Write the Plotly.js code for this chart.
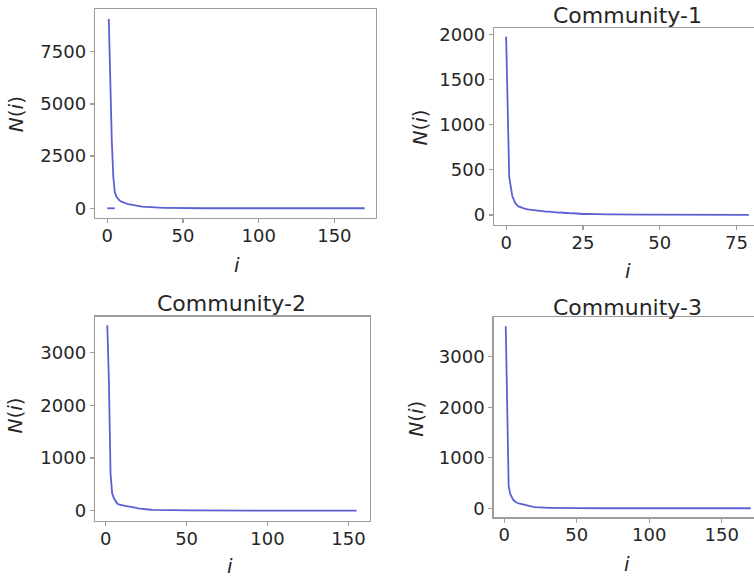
<!DOCTYPE html>
<html>
<head>
<meta charset="utf-8">
<script src="https://cdn.plot.ly/plotly-3.0.1.min.js"></script>
<style>
html, body { margin: 0; padding: 0; overflow: hidden; background: #fff; }
#chart { width: 768px; height: 578px; }
</style>
</head>
<body>
<div id="chart"></div>
<script>
// ---- Data ----
// Panel 1: all nodes, i = 1..170
const start1 = 1;
const n1 = [
  9070, 5400, 3200, 1500, 760, 560, 450, 380, 330, 295,
  265, 240, 218, 198, 180, 163, 148, 134, 121, 110,
  100, 91, 83, 76, 69, 63, 57, 52, 47, 43,
  39, 36, 33, 30, 27, 25, 23, 21, 19, 17,
  16, 15, 14, 13, 12, 11, 10, 9, 9, 8,
  8, 7, 7, 6, 6, 6, 5, 5, 5, 4,
  4, 4, 4, 3, 3, 3, 3, 3, 3, 2,
  2, 2, 2, 2, 2, 2, 2, 2, 2, 2,
  2, 2, 1, 2, 1, 1, 2, 1, 1, 1,
  1, 1, 1, 1, 1, 1, 1, 1, 1, 1,
  1, 1, 1, 1, 1, 1, 1, 1, 1, 1,
  1, 1, 1, 1, 1, 1, 1, 1, 1, 1,
  1, 1, 1, 1, 1, 1, 1, 1, 1, 1,
  1, 1, 1, 1, 1, 1, 1, 1, 1, 1,
  1, 1, 1, 1, 1, 1, 1, 1, 1, 1,
  1, 1, 1, 1, 1, 1, 1, 1, 1, 1,
  1, 1, 1, 1, 1, 1, 1, 1, 1, 1
];
// short flat segment at N = 0 near the origin in panel 1
const dashX = [0, 5];
const dashY = [0, 0];

// Panel 2: Community-1, i = 0..79
const start2 = 0;
const n2 = [
  1975, 420, 210, 130, 95, 78, 70, 62, 57, 53,
  48, 45, 41, 38, 36, 31, 33, 27, 29, 22,
  24, 17, 19, 14, 15, 11, 12, 10, 9, 8,
  8, 7, 7, 6, 6, 5, 5, 5, 4, 4,
  4, 4, 3, 3, 3, 3, 3, 3, 2, 2,
  2, 2, 2, 2, 2, 2, 2, 2, 2, 1,
  2, 1, 1, 2, 1, 1, 1, 1, 1, 1,
  1, 1, 1, 1, 1, 1, 1, 1, 1, 1
];

// Panel 3: Community-2, i = 1..155
const start3 = 1;
const n3 = [
  3520, 2450, 700, 330, 240, 180, 140, 118, 108, 100,
  96, 92, 88, 84, 80, 75, 68, 60, 52, 45,
  40, 35, 31, 28, 25, 22, 20, 18, 16, 15,
  14, 13, 12, 11, 10, 10, 9, 9, 8, 8,
  7, 7, 6, 6, 6, 5, 5, 5, 5, 4,
  4, 4, 4, 4, 3, 3, 3, 3, 3, 3,
  3, 3, 2, 2, 2, 2, 2, 2, 2, 2,
  2, 2, 2, 2, 2, 2, 2, 2, 1, 2,
  1, 2, 1, 1, 2, 1, 1, 1, 1, 1,
  1, 1, 1, 1, 1, 1, 1, 1, 1, 1,
  1, 1, 1, 1, 1, 1, 1, 1, 1, 1,
  1, 1, 1, 1, 1, 1, 1, 1, 1, 1,
  1, 1, 1, 1, 1, 1, 1, 1, 1, 1,
  1, 1, 1, 1, 1, 1, 1, 1, 1, 1,
  1, 1, 1, 1, 1, 1, 1, 1, 1, 1,
  1, 1, 1, 1, 1
];

// Panel 4: Community-3, i = 1..170
const start4 = 1;
const n4 = [
  3600, 2100, 450, 290, 220, 175, 145, 120, 105, 95,
  87, 80, 73, 66, 60, 53, 46, 40, 34, 29,
  25, 22, 19, 17, 15, 13, 12, 11, 10, 9,
  8, 8, 7, 7, 6, 6, 6, 5, 5, 5,
  4, 4, 4, 4, 4, 3, 3, 3, 3, 3,
  3, 3, 3, 2, 2, 2, 2, 2, 2, 2,
  2, 2, 2, 2, 2, 2, 1, 2, 1, 2,
  1, 1, 2, 1, 1, 1, 1, 1, 1, 1,
  1, 1, 1, 1, 1, 1, 1, 1, 1, 1,
  1, 1, 1, 1, 1, 1, 1, 1, 1, 1,
  1, 1, 1, 1, 1, 1, 1, 1, 1, 1,
  1, 1, 1, 1, 1, 1, 1, 1, 1, 1,
  1, 1, 1, 1, 1, 1, 1, 1, 1, 1,
  1, 1, 1, 1, 1, 1, 1, 1, 1, 1,
  1, 1, 1, 1, 1, 1, 1, 1, 1, 1,
  1, 1, 1, 1, 1, 1, 1, 1, 1, 1,
  1, 1, 1, 1, 1, 1, 1, 1, 1, 1
];

const titles = ["", "Community-1", "Community-2", "Community-3"];
const xTicks = [[0, 50, 100, 150], [0, 25, 50, 75], [0, 50, 100, 150], [0, 50, 100, 150]];
const yTicks = [[0, 2500, 5000, 7500], [0, 500, 1000, 1500, 2000], [0, 1000, 2000, 3000], [0, 1000, 2000, 3000]];
const xLabel = "<i>i</i>";
const yLabel = "<i>N</i>(<i>i</i>)";

// ---- Build ----
function idx(start, arr) { return arr.map((_, k) => start + k); }

const W = 768, H = 578;
const lineColor = "#5a60d3";
const frameColor = "#9c9c9c";
const textColor = "#262626";
const fam = "DejaVu Sans, Liberation Sans, sans-serif";

const series = [[start1, n1], [start2, n2], [start3, n3], [start4, n4]];
const traces = series.map((s, k) => ({
  x: idx(s[0], s[1]), y: s[1], type: "scatter", mode: "lines",
  line: { color: lineColor, width: 1.8 },
  xaxis: "x" + (k === 0 ? "" : k + 1), yaxis: "y" + (k === 0 ? "" : k + 1),
  showlegend: false, hoverinfo: "x+y"
}));
traces.push({ x: dashX, y: dashY, type: "scatter", mode: "lines",
  line: { color: lineColor, width: 1.8 }, xaxis: "x", yaxis: "y", showlegend: false });

// plot areas in pixels [left, right, top, bottom]
const boxes = [
  [95, 376, 9, 218],
  [494, 761, 28.3, 225],
  [95, 370, 316.7, 521],
  [493.5, 763, 317.3, 517.3]
];
const xRanges = [[-8.1, 177.5], [-3.95, 82.95], [-6.6, 163.3], [-7.45, 178.45]];
const yRanges = [[-465, 9545], [-111, 2067], [-196, 3683], [-178, 3778]];

const layout = {
  width: W, height: H,
  margin: { l: 0, r: 0, t: 0, b: 0 },
  paper_bgcolor: "#fff", plot_bgcolor: "#fff",
  font: { family: fam, color: textColor, size: 18 },
  showlegend: false,
  annotations: []
};

boxes.forEach((b, k) => {
  const sfx = k === 0 ? "" : String(k + 1);
  const common = {
    showline: true, mirror: true, linecolor: frameColor, linewidth: 1.3,
    ticks: "outside", ticklen: 4, tickwidth: 1.2, tickcolor: frameColor,
    showgrid: false, zeroline: false,
    tickfont: { family: fam, size: 18, color: textColor },
    fixedrange: true
  };
  layout["xaxis" + sfx] = Object.assign({}, common, {
    domain: [b[0] / W, b[1] / W], range: xRanges[k],
    tickmode: "array", tickvals: xTicks[k], ticktext: xTicks[k].map(String),
    anchor: "y" + sfx, ticklabelstandoff: -3
  });
  layout["yaxis" + sfx] = Object.assign({}, common, {
    domain: [1 - b[3] / H, 1 - b[2] / H], range: yRanges[k],
    tickmode: "array", tickvals: yTicks[k], ticktext: yTicks[k].map(String),
    anchor: "x" + sfx
  });
});

function ann(text, px, py, size, angle) {
  return { text: text, xref: "paper", yref: "paper", x: px / W, y: 1 - py / H,
    xanchor: "center", yanchor: "middle", showarrow: false, textangle: angle || 0,
    font: { family: fam, size: size, color: textColor } };
}
const titlePos = [null, [627.5, 15.5], [231, 303.5], [627.7, 307]];
const xLabPos = [[237, 265], [628, 271.5], [230, 565.5], [626.7, 564]];
const yLabPos = [[15.5, 114.7], [419, 127.5], [14.7, 415.8], [415.8, 419]];
for (let k = 0; k < 4; k++) {
  if (titles[k]) layout.annotations.push(ann(titles[k], titlePos[k][0], titlePos[k][1], 22));
  layout.annotations.push(ann(xLabel, xLabPos[k][0], xLabPos[k][1], 20));
  layout.annotations.push(ann(yLabel, yLabPos[k][0], yLabPos[k][1], 20, -90));
}

Plotly.newPlot("chart", traces, layout, { displayModeBar: false, staticPlot: true });
</script>
</body>
</html>
